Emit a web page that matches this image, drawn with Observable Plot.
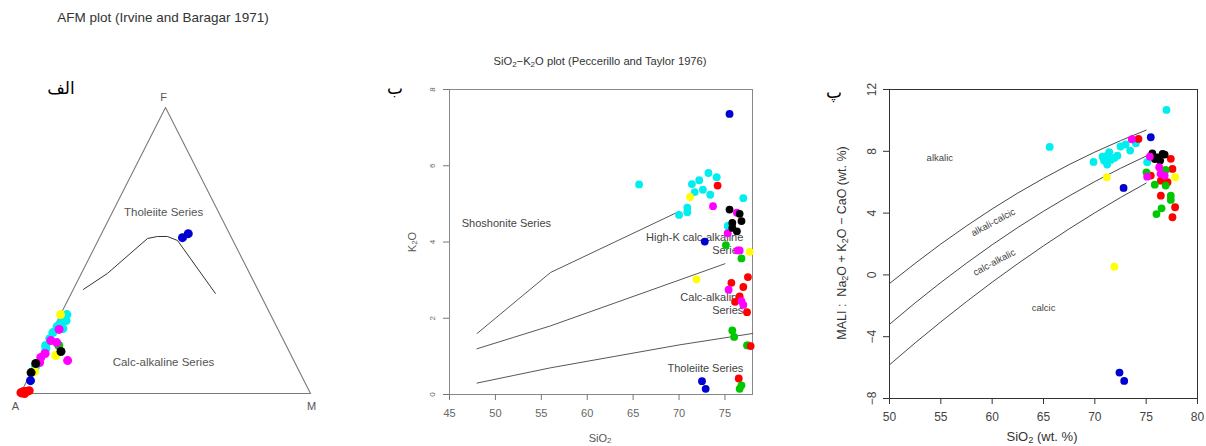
<!DOCTYPE html>
<html>
<head>
<meta charset="utf-8">
<script src="https://cdn.jsdelivr.net/npm/d3@7"></script>
<script src="https://cdn.jsdelivr.net/npm/@observablehq/plot@0.6"></script>
<style>
  body { margin: 0; background: #fff; font-family: "Liberation Sans", Arial, sans-serif; }
  #root { position: relative; width: 1206px; height: 446px; overflow: hidden; background: #fff; }
  #root svg { position: absolute; overflow: visible; }
  .lbl { position: absolute; white-space: nowrap; transform: translate(-50%, -50%); line-height: 1; }
  .rot { transform: translate(-50%, -50%) rotate(-90deg); }
  sub { font-size: 0.72em; vertical-align: -0.25em; line-height: 0; }
</style>
</head>
<body>
<div id="root"></div>
<script>
// ---------- shared categories ----------
const groups = ["S1", "S2", "S3", "S4", "S5", "S6", "S7"];

// ---------- Panel الف : AFM ternary (F, M in %, A = 100 - F - M) ----------
const afmVertices = [["A", 0, 0], ["M", 0, 100], ["F", 100, 0]]; // [name, F, M]
const afmBoundary = [[36.4, 3.5], [42, 9], [54.2, 16.7], [54.9, 19.8], [54.9, 23.2], [53.5, 27.4], [35, 49.7]]; // [F, M]
const afmRegionLabels = [["Tholeiite Series", 63.3, 17.7], ["Calc-alkaline Series", 10.8, 43.9]];
const afmSamples = [ // [group, F, M]
  ["S4", 16.8, 0.3], ["S4", 19.2, 0.5], ["S4", 21.3, 0.5], ["S4", 23.4, 0.9], ["S4", 24.8, 1.6],
  ["S4", 26.2, 2.2], ["S4", 27.6, 2.2], ["S4", 22.7, 3.3], ["S4", 15.7, 0.9], ["S4", 9.4, 0.5], ["S4", 25.5, 3.0],
  ["S2", 16.8, 4.8],
  ["S6", 27.6, 0.0], ["S6", 7.7, 1.0], ["S6", 13.3, 5.5],
  ["S5", 12.6, 0.7], ["S5", 10.8, 1.2], ["S5", 18.5, 1.2], ["S5", 17.8, 3.6], ["S5", 22.4, 2.1], ["S5", 11.5, 10.5], ["S5", 14.0, 1.5],
  ["S7", 7.3, 0.0], ["S7", 10.5, 0.0], ["S7", 14.7, 6.6],
  ["S3", 4.5, 1.2], ["S3", 54.5, 28.6], ["S3", 55.9, 29.9],
  ["S1", 0.3, 0.0], ["S1", 0.7, 0.7], ["S1", 0.7, 1.7], ["S1", 0.0, 1.4], ["S1", 0.2, 0.3], ["S1", 1.0, 2.5]
];

// ---------- Panel ب : SiO2 - K2O ----------
const k2oXTicks = [45, 50, 55, 60, 65, 70, 75];
const k2oYTicks = [0, 2, 4, 6, 8];
const k2oBoundaries = [ // [boundary, SiO2, K2O]
  ["sho", 48, 1.6], ["sho", 56, 3.2], ["sho", 63, 4.0], ["sho", 70, 4.8],
  ["hk", 48, 1.2], ["hk", 52, 1.5], ["hk", 56, 1.8], ["hk", 63, 2.4], ["hk", 70, 3.0], ["hk", 75, 3.43],
  ["ca", 48, 0.3], ["ca", 52, 0.5], ["ca", 56, 0.7], ["ca", 63, 1.0], ["ca", 70, 1.3], ["ca", 78, 1.6]
];
const k2oCenterLabels = [["Shoshonite Series", 51.2, 4.49]];
const k2oEndLabels = [["High-K calc-alkaline\nSeries", 77, 3.97], ["Calc-alkaline\nSeries", 77, 2.39], ["Tholeiite Series", 77, 0.69]];
const k2oSamples = [ // [group, SiO2, K2O]
  ["S4", 65.65, 5.51], ["S4", 70.0, 4.71], ["S4", 70.9, 4.78], ["S4", 70.9, 4.90], ["S4", 71.4, 5.52], ["S4", 71.7, 5.31],
  ["S4", 72.2, 5.62], ["S4", 72.6, 5.37], ["S4", 73.2, 5.81], ["S4", 73.4, 5.24], ["S4", 74.1, 5.70], ["S4", 77.0, 5.15], ["S4", 75.3, 4.42],
  ["S6", 71.2, 5.18], ["S6", 77.7, 3.74], ["S6", 71.9, 3.02],
  ["S1", 74.2, 5.48],
  ["S5", 73.7, 4.94], ["S5", 76.3, 4.77], ["S5", 75.3, 4.23],
  ["S7", 75.5, 4.85], ["S7", 76.6, 4.74], ["S7", 76.8, 4.55], ["S7", 75.8, 4.50], ["S7", 75.8, 4.37], ["S7", 76.3, 4.28],
  ["S3", 75.5, 7.36], ["S3", 72.8, 4.01], ["S3", 72.5, 0.35], ["S3", 72.9, 0.15],
  ["S2", 75.1, 3.92], ["S2", 76.8, 3.57],
  ["S5", 76.4, 3.78], ["S5", 76.6, 3.78],
  ["S1", 77.5, 3.08], ["S1", 75.7, 2.93], ["S1", 77.0, 2.82], ["S1", 76.6, 2.57], ["S1", 76.1, 2.43], ["S1", 77.4, 2.16],
  ["S5", 75.4, 2.75], ["S5", 76.8, 2.45], ["S5", 77.0, 2.35],
  ["S2", 75.8, 1.68], ["S2", 76.0, 1.51], ["S2", 77.4, 1.29], ["S2", 77.5, 1.29],
  ["S1", 77.8, 1.27], ["S1", 76.5, 0.42],
  ["S2", 76.8, 0.24], ["S2", 76.6, 0.15]
];

// ---------- Panel پ : MALI ----------
const maliXTicks = [50, 55, 60, 65, 70, 75, 80];
const maliYTicks = [-8, -4, 0, 4, 8, 12];
const maliSiO2 = [50, 52.5, 55, 57.5, 60, 62.5, 65, 67.5, 70, 72.5, 75];
const maliAlkalic = [-0.56, 0.75, 2.00, 3.17, 4.27, 5.30, 6.25, 7.14, 7.95, 8.69, 9.37];
const maliAlkaliCalcic = [-3.20, -1.81, -0.49, 0.76, 1.95, 3.07, 4.12, 5.11, 6.04, 6.90, 7.69];
const maliCalcAlkalic = [-5.82, -4.40, -3.04, -1.73, -0.47, 0.73, 1.88, 2.98, 4.02, 5.01, 5.94];
const maliFlatLabels = [["alkalic", 54.9, 7.57], ["calcic", 65.0, -2.15]];
const maliSlantLabels = [["alkali-calcic", 60.1, 3.4], ["calc-alkalic", 60.2, 0.81]];
const maliSamples = [ // [group, SiO2, MALI]
  ["S4", 76.98, 10.68], ["S4", 65.6, 8.28], ["S4", 69.87, 7.31], ["S4", 70.75, 7.66], ["S4", 70.9, 7.40], ["S4", 71.2, 7.72],
  ["S4", 71.4, 7.94], ["S4", 71.56, 7.44], ["S4", 71.2, 7.14], ["S4", 71.9, 7.57], ["S4", 72.2, 7.72], ["S4", 72.5, 8.31],
  ["S4", 73.0, 8.44], ["S4", 73.44, 8.05], ["S4", 74.0, 8.52], ["S4", 75.1, 7.29],
  ["S3", 75.45, 8.91], ["S3", 72.8, 5.63], ["S3", 72.4, -6.32], ["S3", 72.86, -6.86],
  ["S1", 74.25, 8.80], ["S5", 73.6, 8.78],
  ["S6", 71.17, 6.32], ["S6", 71.9, 0.53], ["S6", 77.82, 6.32],
  ["S1", 77.4, 7.51], ["S1", 77.56, 6.86], ["S1", 75.45, 6.43], ["S1", 76.43, 6.10], ["S1", 77.08, 6.00],
  ["S1", 76.43, 5.13], ["S1", 77.82, 4.38], ["S1", 77.56, 3.73],
  ["S2", 75.03, 6.64], ["S2", 75.84, 5.84], ["S2", 76.9, 5.78], ["S2", 76.9, 6.79], ["S2", 77.4, 5.13],
  ["S2", 77.4, 4.85], ["S2", 76.5, 4.31], ["S2", 76.0, 3.94],
  ["S7", 75.6, 7.87], ["S7", 76.1, 7.61], ["S7", 76.6, 7.83], ["S7", 76.36, 7.40], ["S7", 76.8, 7.79], ["S7", 75.85, 7.50],
  ["S5", 75.36, 7.66], ["S5", 76.27, 6.97], ["S5", 75.1, 6.36], ["S5", 76.4, 6.54], ["S5", 76.8, 6.43]
];

// ---------- rendering ----------
const colorScale = {
  domain: groups,
  range: ["#ff0000", "#00c800", "#0000d0", "#00eeee", "#ff00ff", "#ffff00", "#000000"]
};
const font = "'Liberation Sans', Arial, sans-serif";
const root = document.getElementById("root");

function place(svg, left, top) {
  svg.style.left = left + "px";
  svg.style.top = top + "px";
  root.appendChild(svg);
}
function label(html, x, y, size, color, rotate) {
  const d = document.createElement("div");
  d.className = "lbl" + (rotate ? " rot" : "");
  d.style.left = x + "px";
  d.style.top = y + "px";
  d.style.fontSize = size + "px";
  d.style.color = color;
  d.innerHTML = html;
  root.appendChild(d);
}
function arabic(text, x, y, size) {
  const d = document.createElement("div");
  d.className = "lbl";
  d.style.left = x + "px";
  d.style.top = y + "px";
  d.style.fontSize = size + "px";
  d.style.fontFamily = "'DejaVu Sans', 'Noto Sans', sans-serif";
  d.style.color = "#000";
  d.dir = "rtl";
  d.textContent = text;
  root.appendChild(d);
}

// Panel الف
const tx = (F, M) => M + F / 2;
const afmTri = [...afmVertices, afmVertices[0]].map(([n, F, M]) => ({x: tx(F, M), y: F}));
const afmCurve = afmBoundary.map(([F, M]) => ({x: tx(F, M), y: F}));
const afmPts = afmSamples.map(([g, F, M]) => ({g, x: tx(F, M), y: F}));
const afmRegs = afmRegionLabels.map(([t, F, M]) => ({t, x: tx(F, M), y: F}));
const afmV = afmVertices.map(([n, F, M]) => ({n, x: tx(F, M), y: F}));

const pA = Plot.plot({
  width: 400, height: 446,
  marginLeft: 20, marginRight: 90, marginTop: 107, marginBottom: 53,
  x: {domain: [0, 100], axis: null, label: null},
  y: {domain: [0, 100], axis: null, label: null},
  color: colorScale,
  style: {fontFamily: font, background: "transparent", color: "#444"},
  marks: [
    Plot.line(afmTri, {x: "x", y: "y", stroke: "#7a7a7a", strokeWidth: 1.1}),
    Plot.line(afmCurve, {x: "x", y: "y", stroke: "#333", strokeWidth: 1}),
    Plot.text(afmRegs, {x: "x", y: "y", text: "t", fontSize: 11.5, fill: "#555"}),
    Plot.text(afmV.filter(d => d.n === "A"), {x: "x", y: "y", text: "n", fontSize: 11, fill: "#555", dx: -5, dy: 13}),
    Plot.text(afmV.filter(d => d.n === "M"), {x: "x", y: "y", text: "n", fontSize: 11, fill: "#555", dx: 1, dy: 13}),
    Plot.text(afmV.filter(d => d.n === "F"), {x: "x", y: "y", text: "n", fontSize: 11, fill: "#555", dx: -2, dy: -10}),
    Plot.dot(afmPts, {x: "x", y: "y", fill: "g", r: 4.5})
  ]
});
place(pA, 0, 0);
label("AFM plot (Irvine and Baragar 1971)", 163, 18, 13.5, "#333");
arabic("الف", 61, 88, 17);

// Panel ب
const pB = Plot.plot({
  width: 380, height: 396,
  marginLeft: 49, marginRight: 28, marginTop: 39, marginBottom: 52,
  x: {domain: [45, 78], label: null},
  y: {domain: [0, 8], label: null},
  color: colorScale,
  style: {fontFamily: font, background: "transparent", color: "#777"},
  marks: [
    Plot.frame({stroke: "#888"}),
    Plot.axisX(k2oXTicks, {tickSize: 6, tickPadding: 9, fontSize: 11, fill: "#666", label: null}),
    Plot.axisY(k2oYTicks, {tickSize: 6, tickPadding: 9, tickRotate: -90, fontSize: 8, fill: "#666", label: null}),
    Plot.line(k2oBoundaries, {x: d => d[1], y: d => d[2], z: d => d[0], stroke: "#444", strokeWidth: 0.9}),
    Plot.text(k2oCenterLabels, {x: d => d[1], y: d => d[2], text: d => d[0], fontSize: 11, fill: "#444"}),
    Plot.text(k2oEndLabels, {x: d => d[1], y: d => d[2], text: d => d[0], fontSize: 11, fill: "#444", textAnchor: "end", lineHeight: 1.15}),
    Plot.dot(k2oSamples, {x: d => d[1], y: d => d[2], fill: d => d[0], r: 3.9})
  ]
});
place(pB, 400, 50);
label("SiO<sub>2</sub>\u2212K<sub>2</sub>O plot (Peccerillo and Taylor 1976)", 600, 62, 11.2, "#333");
label("K<sub>2</sub>O", 412, 242, 11, "#555", true);
label("SiO<sub>2</sub>", 600, 438, 11, "#555");
arabic("ب", 395, 88, 17);

// Panel پ
const maliCurves = [
  ...maliSiO2.map((s, i) => ({c: "alkalic", x: s, y: maliAlkalic[i]})),
  ...maliSiO2.map((s, i) => ({c: "alkali-calcic", x: s, y: maliAlkaliCalcic[i]})),
  ...maliSiO2.map((s, i) => ({c: "calc-alkalic", x: s, y: maliCalcAlkalic[i]}))
];
const pC = Plot.plot({
  width: 406, height: 396,
  marginLeft: 89, marginRight: 9, marginTop: 39, marginBottom: 48,
  x: {domain: [50, 80], label: null},
  y: {domain: [-8, 12], label: null},
  color: colorScale,
  style: {fontFamily: font, background: "transparent", color: "#333"},
  marks: [
    Plot.frame({stroke: "#333"}),
    Plot.axisX(maliXTicks, {tickSize: 6, tickPadding: 8, fontSize: 12, fill: "#444", label: null}),
    Plot.axisY(maliYTicks, {tickSize: 6, tickPadding: 8, tickRotate: -90, fontSize: 12, fill: "#444", label: null}),
    Plot.line(maliCurves, {x: "x", y: "y", z: "c", stroke: "#333", strokeWidth: 0.9}),
    Plot.text(maliFlatLabels, {x: d => d[1], y: d => d[2], text: d => d[0], fontSize: 9.5, fill: "#444"}),
    Plot.text(maliSlantLabels, {x: d => d[1], y: d => d[2], text: d => d[0], fontSize: 9.5, fill: "#444", rotate: -28}),
    Plot.dot(maliSamples, {x: d => d[1], y: d => d[2], fill: d => d[0], r: 3.9})
  ]
});
place(pC, 800, 50);
label("SiO<sub>2</sub> (wt. %)", 1042, 436, 13, "#333");
label("MALI :&nbsp;&nbsp;Na<sub>2</sub>O + K<sub>2</sub>O \u2212 CaO (wt. %)", 842, 243, 12.5, "#333", true);
arabic("پ", 834, 92, 17);
</script>
</body>
</html>
